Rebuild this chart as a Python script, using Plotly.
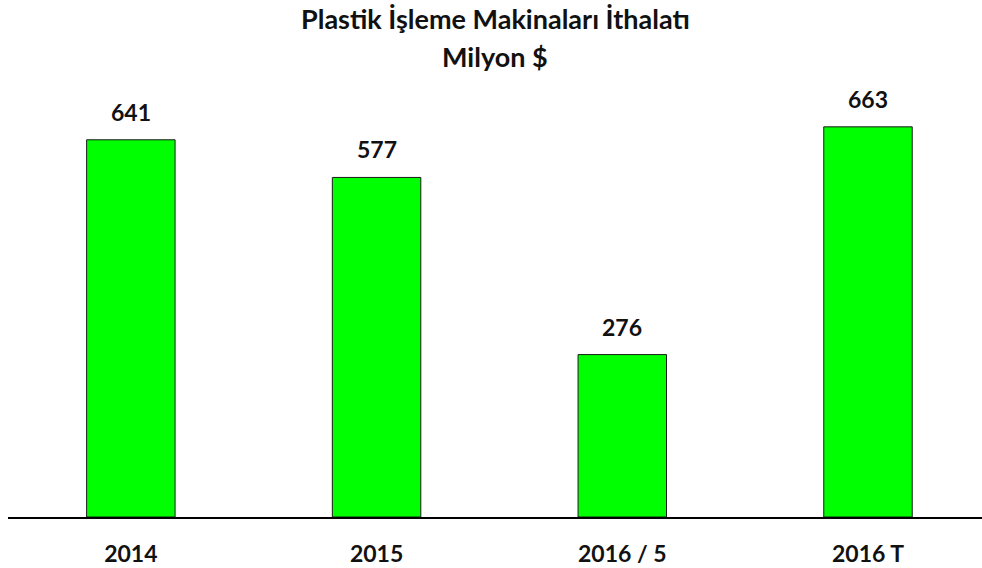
import plotly.graph_objects as go

categories = ["2014", "2015", "2016 / 5", "2016 T"]
values = [641, 577, 276, 663]
title_line1 = "Plastik İşleme Makinaları İthalatı"
title_line2 = "Milyon $"

FONT = "Lato, Open Sans, sans-serif"

fig = go.Figure()
fig.add_trace(go.Bar(
    x=list(range(len(categories))),
    y=values,
    width=0.36,
    marker=dict(color="#00FF00", line=dict(color="#1a1a1a", width=1)),
    hoverinfo="skip",
))

for i, v in enumerate(values):
    fig.add_annotation(x=i, y=v, text=f"<b>{v}</b>", showarrow=False,
                       yanchor="bottom", yshift=12,
                       font=dict(family=FONT, size=23, color="#111111"))

fig.add_annotation(xref="paper", yref="paper", x=0.5, y=1, yshift=72,
                   text=f"<b>{title_line1}</b>", showarrow=False,
                   xanchor="center", yanchor="middle",
                   font=dict(family=FONT, size=27, color="#111111"))
fig.add_annotation(xref="paper", yref="paper", x=0.5, y=1, yshift=34,
                   text=f"<b>{title_line2}</b>", showarrow=False,
                   xanchor="center", yanchor="middle",
                   font=dict(family=FONT, size=27, color="#111111"))

fig.update_layout(
    width=982, height=568,
    margin=dict(l=8, r=0, t=90, b=51),
    plot_bgcolor="white", paper_bgcolor="white",
    showlegend=False,
    xaxis=dict(
        range=[-0.5, 3.464],
        tickmode="array",
        tickvals=list(range(len(categories))),
        ticktext=[f"<b>{c}</b>" for c in categories],
        tickfont=dict(family=FONT, size=23, color="#111111"),
        showline=True, linecolor="black", linewidth=2,
        ticks="outside", ticklen=15, tickcolor="rgba(0,0,0,0)",
        showgrid=False, zeroline=False,
    ),
    yaxis=dict(
        range=[0, 725.6],
        visible=False, showgrid=False, zeroline=False,
    ),
)

fig.write_html("out.html",
               config={"displayModeBar": False},
               post_script="document.body.style.margin='0';document.body.style.overflow='hidden';")
